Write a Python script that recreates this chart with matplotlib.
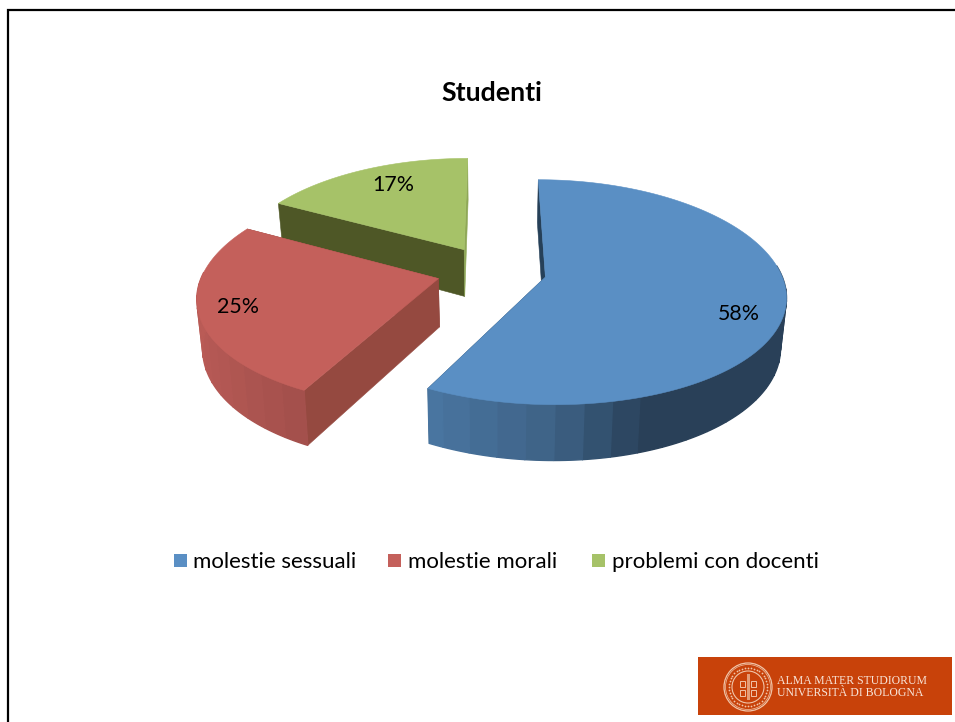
import numpy as np
import matplotlib
matplotlib.use("Agg")
import matplotlib.pyplot as plt
from matplotlib.patches import Circle, Rectangle

# ---- data
categories = ["molestie sessuali", "molestie morali", "problemi con docenti"]
shares = [57.6, 25.3, 17.1]
labels = ["58%", "25%", "17%"]
title = "Studenti"
logo_lines = ["ALMA MATER STUDIORUM", "UNIVERSITÀ DI BOLOGNA"]

# ---- style
top_colors = ["#5A8FC4", "#C4605B", "#A6C268"]
start_face = ["#264058", "#954940", "#4E5726"]
end_face = ["#264058", "#954940", "#8FA857"]
label_xy = [(739, 314), (238, 307), (393, 185)]
legend_box_x = [174, 388, 592]
legend_txt_x = [193, 408, 612]

CX, CY, RX, RY, K, KX = 491.5, 271.0, 235.0, 108.8, 0.1335, 0.15
EXPLODE, DEPTH, SHRINK, TILT = 0.234, 48.0, 0.98, 0.0

fig = plt.figure(figsize=(9.55, 7.22), dpi=100, facecolor="white")
ax = fig.add_axes([0, 0, 1, 1])
ax.set_xlim(0, 955)
ax.set_ylim(722, 0)
ax.axis("off")


def top_xy(u, v):
    return CX + RX * u / (1 + KX * v), CY - RY * v / (1 + K * v)


def bottom_xy(u, v):
    x, y = top_xy(u, v)
    return CX + (x - CX) * SHRINK, y + DEPTH / (1 + K * v)


def shade(theta):
    s = np.sin(np.radians(theta))
    return np.interp(s, [-1, -0.48, 0, 0.33, 1], [0.95, 0.83, 0.68, 0.45, 0.45])


def poly(xs, ys, color, z, lw=0.4):
    ax.fill(xs, ys, facecolor=color, edgecolor=color, linewidth=lw, zorder=z)


edges = np.concatenate([[0], np.cumsum(shares)]) * 3.6
base_z = {2: 10, 1: 20, 0: 30}
for i in range(len(shares)):
    t0, t1 = edges[i] + TILT, edges[i + 1] + TILT
    mid = np.radians((t0 + t1) / 2)
    au, av = EXPLODE * np.sin(mid), EXPLODE * np.cos(mid)
    z = base_z[i]
    th = np.append(np.arange(t0, t1, 0.5), t1)
    u = au + np.sin(np.radians(th))
    v = av + np.cos(np.radians(th))
    base = np.array(matplotlib.colors.to_rgb(top_colors[i]))

    # rim in coarse facets, as in the banded original
    facets = np.append(np.arange(t0, t1, 6.0), t1)
    for a, b in zip(facets[:-1], facets[1:]):
        tt = np.linspace(a, b, 6)
        uu = au + np.sin(np.radians(tt))
        vv = av + np.cos(np.radians(tt))
        xt, yt = top_xy(uu, vv)
        xb, yb = bottom_xy(uu, vv)
        front = np.cos(np.radians((a + b) / 2)) <= 0.1
        col = np.clip(base * shade((a + b) / 2), 0, 1)
        if front:
            poly(np.r_[xt, xb[::-1]], np.r_[yt, yb[::-1]], col, z + 3, lw=1.0)

    # radial cut faces
    for t, c in ((t0, start_face[i]), (t1, end_face[i])):
        eu = au + np.sin(np.radians(t))
        ev = av + np.cos(np.radians(t))
        ax_, ay_ = top_xy(au, av)
        ex_, ey_ = top_xy(eu, ev)
        bx_, by_ = bottom_xy(eu, ev)
        cx_, cy_ = bottom_xy(au, av)
        poly([ax_, ex_, bx_, cx_], [ay_, ey_, by_, cy_], c, z + 1)

    # top surface
    xt, yt = top_xy(u, v)
    ax0, ay0 = top_xy(au, av)
    poly(np.r_[ax0, xt], np.r_[ay0, yt], top_colors[i], z + 5)

FONT = "Lato"
for (x, y), s in zip(label_xy, labels):
    ax.text(x, y, s, ha="center", va="center", fontsize=15.4, color="black",
            family=FONT, zorder=50)

ax.text(492, 93, title, ha="center", va="center", fontsize=19.3, fontweight="bold",
        family=FONT, color="black", zorder=50)

for bx, tx, c, name in zip(legend_box_x, legend_txt_x, top_colors, categories):
    ax.add_patch(Rectangle((bx, 554), 13, 13, facecolor=c, edgecolor="none"))
    ax.text(tx, 562, name, ha="left", va="center", fontsize=16.0, family=FONT,
            color="black")

# slide frame
ax.plot([8, 8, 955], [722, 10, 10], color="black", lw=1.6, solid_joinstyle="miter",
        clip_on=False, zorder=60)

# logo
ORANGE = "#C8420A"
LINE = "#F0C4A8"
ax.add_patch(Rectangle((698, 657), 254, 58, facecolor=ORANGE, edgecolor="none", zorder=40))
sx, sy = 748, 687
for r, lw in ((24, 0.9), (22.5, 0.5), (16, 0.8)):
    ax.add_patch(Circle((sx, sy), r, fill=False, edgecolor=LINE, linewidth=lw, zorder=41))
ang = np.radians(np.arange(0, 360, 9))
ax.scatter(sx + 19.3 * np.cos(ang), sy + 19.3 * np.sin(ang), s=1.6, color=LINE,
           linewidths=0, zorder=41)
for dx, dy in [(-8, -6), (3, -6), (-8, 3), (3, 3)]:
    ax.add_patch(Rectangle((sx + dx, sy + dy), 5, 6, fill=False, edgecolor=LINE,
                           linewidth=0.7, zorder=41))
ax.add_patch(Rectangle((sx - 1.5, sy - 13), 3, 26, facecolor=LINE, alpha=0.7,
                       edgecolor="none", zorder=41))
for y, s in zip((681, 692.5), logo_lines):
    ax.text(777, y, s, ha="left", va="center", fontsize=8.5, family="Liberation Serif",
            color="#F8E4D8", zorder=41)

fig.savefig("out.png", dpi=100, facecolor="white")
